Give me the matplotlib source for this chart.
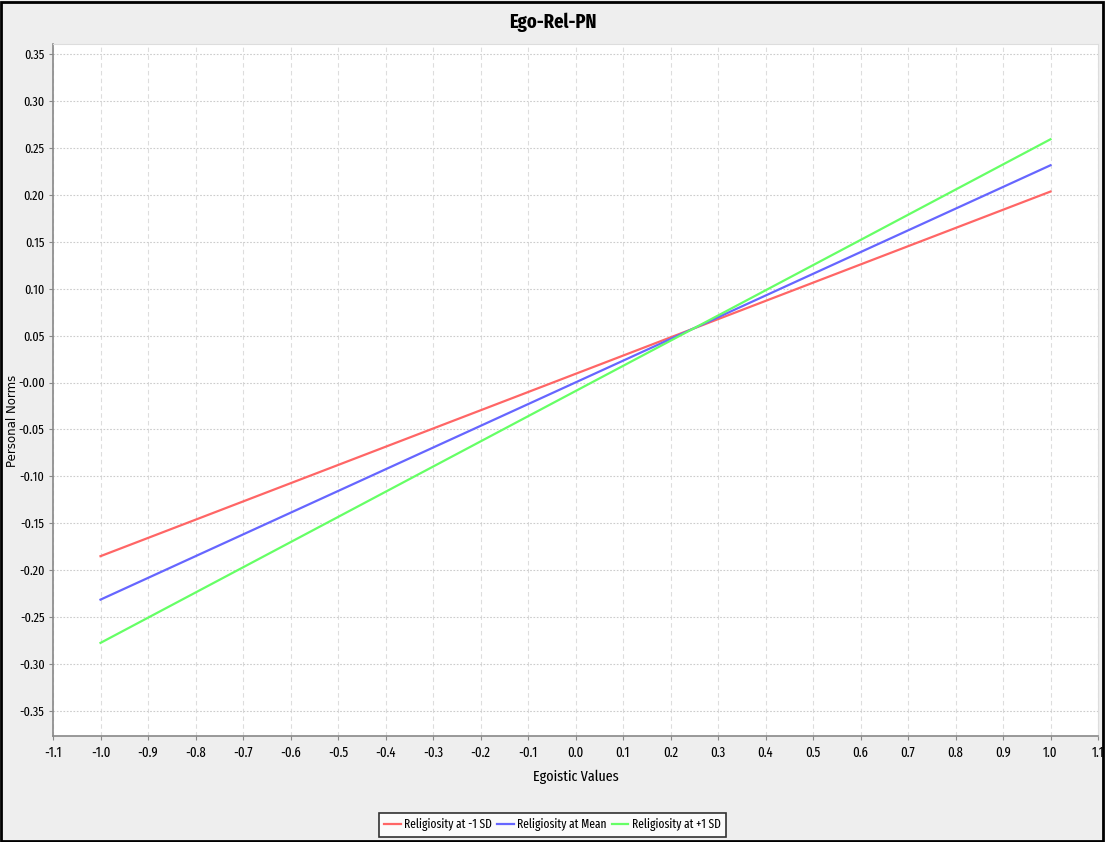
import numpy as np
import matplotlib
matplotlib.use("Agg")
import matplotlib.pyplot as plt

cond = "Fira Sans Extra Condensed"
plt.rcParams["font.family"] = [cond, "DejaVu Sans"]

# data: line endpoints at x = -1 and x = 1
egoistic = [-1.0, 1.0]
rel_low = [-0.185, 0.2035]
rel_mean = [-0.2313, 0.2315]
rel_high = [-0.2774, 0.2592]
labels = ["Religiosity at -1 SD", "Religiosity at Mean", "Religiosity at +1 SD"]
colors = ["#ff6666", "#6666ff", "#66ff66"]

xticks = np.round(np.arange(-1.1, 1.11, 0.1), 1)
yticks = np.round(np.arange(-0.35, 0.351, 0.05), 2)

fig = plt.figure(figsize=(11.05, 8.42), dpi=100, facecolor="#eeeeee")
ax = fig.add_axes([53/1105, 106/842, 1045/1105, 692/842])
ax.set_facecolor("white")

for ys, lab, c in zip([rel_low, rel_mean, rel_high], labels, colors):
    ax.plot(egoistic, ys, color=c, lw=1.6, label=lab)

ax.set_xlim(-1.1, 1.1)
ax.set_ylim(-0.3766, 0.3607)
ax.set_xticks(xticks)
ax.set_xticklabels(["%.1f" % v for v in xticks])
ax.set_yticks(yticks)
ax.set_yticklabels(["%.2f" % v for v in yticks])
ax.tick_params(labelsize=10, length=3, color="#888888", pad=3)
ax.tick_params(axis="y", labelsize=9.5)
ax.tick_params(axis="x", pad=4)

ax.xaxis.grid(True, color="#dddddd", ls=(0, (4, 3)), lw=0.8)
ax.yaxis.grid(True, color="#cccccc", ls=(0, (1.5, 1.5)), lw=0.8)
for side in ["top", "right"]:
    ax.spines[side].set_color("#dddddd")
for side in ["left", "bottom"]:
    ax.spines[side].set_color("#888888")
    ax.spines[side].set_linewidth(1.2)

fig.suptitle("Ego-Rel-PN", x=0.5, y=1 - 22/842, va="center", fontsize=14.5, fontweight="bold")
ax.set_xlabel("Egoistic Values", fontsize=11, labelpad=7)
fig.text(13/1105, 0.5, "Personal Norms", rotation=90, ha="center", va="center",
         fontsize=8.5, family="DejaVu Sans")

leg = fig.legend(loc="lower center", bbox_to_anchor=(0.5, 5/842), ncol=3, fontsize=9,
                 frameon=True, fancybox=False, handlelength=1.3, handletextpad=0.3,
                 columnspacing=0.4, borderpad=0.45, borderaxespad=0)
leg.get_frame().set_edgecolor("black")
leg.get_frame().set_linewidth(1.2)

# outer frame
fig.patches.append(plt.Rectangle((0.001, 0.001), 0.997, 0.997, transform=fig.transFigure,
                                 fill=False, edgecolor="black", lw=2))

fig.savefig("out.png", dpi=100, facecolor=fig.get_facecolor())
